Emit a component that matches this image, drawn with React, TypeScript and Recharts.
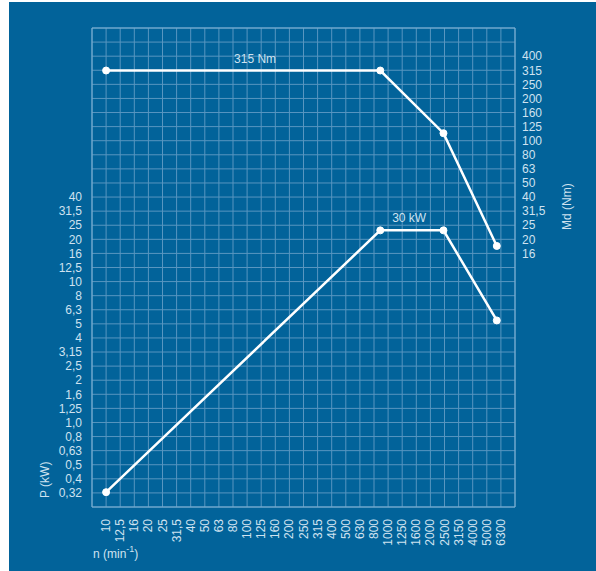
import React from "react";
import {
  LineChart,
  Line,
  XAxis,
  YAxis,
  CartesianGrid,
  ReferenceArea,
  ReferenceDot,
} from "recharts";

// Drehzahl-Achse (Renard-Reihe)
const nLabels = [
  "10", "12,5", "16", "20", "25", "31,5", "40", "50", "63", "80", "100",
  "125", "160", "200", "250", "315", "400", "500", "630", "800", "1000",
  "1250", "1600", "2000", "2500", "3150", "4000", "5000", "6300",
];

// Leistung P (kW), linke Achse
const pLabels = [
  "0,32", "0,4", "0,5", "0,63", "0,8", "1,0", "1,25", "1,6", "2", "2,5",
  "3,15", "4", "5", "6,3", "8", "10", "12,5", "16", "20", "25", "31,5", "40",
];

// Drehmoment Md (Nm), rechte Achse
const mdLabels = [
  "16", "20", "25", "31,5", "40", "50", "63", "80", "100", "125", "160",
  "200", "250", "315", "400",
];

// Messpunkte
const speeds = [10, 880, 2470, 5900];
const power = [0.32, 23.1, 23.1, 5.3];
const torque = [315, 315, 113, 17.9];

// Beschriftungen an den Kurven
const notes = [
  { text: "315 Nm", n: 114, value: 315 },
  { text: "30 kW", n: 1410, value: 23.1 },
];

const BG = "#02639a";
const TEXT = "#cfe2f0";
const GRID = "#5896c0";
const FONT = "'Liberation Sans', Arial, sans-serif";

const lg = (v: number) => 10 * Math.log10(v);
const num = (s: string) => parseFloat(s.replace(",", "."));

const X_DOMAIN: [number, number] = [9, 39];
const Y_DOMAIN: [number, number] = [-6, 28];

const steps = (a: number, b: number) => {
  const out: number[] = [];
  for (let i = a; i <= b; i++) out.push(i);
  return out;
};

const labelAt = (labels: string[], t: number) =>
  labels.find((l) => Math.round(lg(num(l))) === t) || "";

const data = speeds.map((n, i) => ({
  x: lg(n),
  p: lg(power[i]),
  md: lg(torque[i]),
}));

const XTick = (props: any) => {
  const { x, y, payload } = props;
  const lab = labelAt(nLabels, payload.value);
  if (!lab) return <g />;
  return (
    <text
      x={x}
      y={y}
      transform={`rotate(-90 ${x} ${y})`}
      textAnchor="end"
      dominantBaseline="central"
      fill={TEXT}
      fontSize={12}
      fontFamily={FONT}
    >
      {lab}
    </text>
  );
};

export default function App() {
  return (
    <div
      style={{
        position: "fixed",
        left: 9,
        top: 2,
        width: 587,
        height: 569,
        background: BG,
      }}
    >
      <LineChart
        width={587}
        height={569}
        data={data}
        margin={{ top: 26, right: 21, left: 23, bottom: 14 }}
      >
        <CartesianGrid yAxisId="left" stroke={GRID} strokeWidth={1} />
        <XAxis
          dataKey="x"
          type="number"
          domain={X_DOMAIN}
          ticks={steps(9, 39)}
          interval={0}
          height={50}
          axisLine={false}
          tickLine={false}
          tickSize={10}
          tickMargin={2}
          tick={<XTick />}
          label={{
            content: (p: any) => {
              const vb = p.viewBox;
              return (
                <text
                  x={vb.x + 1}
                  y={vb.y + 47}
                  fill={TEXT}
                  fontSize={12}
                  fontFamily={FONT}
                  dominantBaseline="central"
                >
                  n (min
                  <tspan dy={-5} fontSize={9}>
                    -1
                  </tspan>
                  <tspan dy={5}>)</tspan>
                </text>
              );
            },
          }}
        />
        <YAxis
          yAxisId="left"
          type="number"
          domain={Y_DOMAIN}
          ticks={steps(-6, 28)}
          interval={0}
          width={60}
          axisLine={false}
          tickLine={false}
          tickSize={8}
          tickMargin={2}
          tickFormatter={(t: number) => labelAt(pLabels, t)}
          tick={{ fill: TEXT, fontSize: 12, fontFamily: FONT }}
          label={{
            content: (p: any) => {
              const vb = p.viewBox;
              const x = vb.x + 13;
              const y = vb.y + vb.height - 9;
              return (
                <text
                  x={x}
                  y={y}
                  transform={`rotate(-90 ${x} ${y})`}
                  textAnchor="start"
                  dominantBaseline="central"
                  fill={TEXT}
                  fontSize={12}
                  fontFamily={FONT}
                >
                  P (kW)
                </text>
              );
            },
          }}
        />
        <YAxis
          yAxisId="right"
          orientation="right"
          type="number"
          domain={Y_DOMAIN}
          ticks={steps(-6, 28)}
          interval={0}
          width={60}
          axisLine={false}
          tickLine={false}
          tickSize={5}
          tickMargin={2}
          tickFormatter={(t: number) => labelAt(mdLabels, t)}
          tick={{ fill: TEXT, fontSize: 12, fontFamily: FONT, textAnchor: "start" }}
          label={{
            content: (p: any) => {
              const vb = p.viewBox;
              const x = vb.x + 52;
              const y = vb.y + 202;
              return (
                <text
                  x={x}
                  y={y}
                  transform={`rotate(-90 ${x} ${y})`}
                  textAnchor="start"
                  dominantBaseline="central"
                  fill={TEXT}
                  fontSize={12}
                  fontFamily={FONT}
                >
                  Md (Nm)
                </text>
              );
            },
          }}
        />
        <ReferenceArea
          yAxisId="left"
          x1={X_DOMAIN[0]}
          x2={X_DOMAIN[1]}
          y1={Y_DOMAIN[0]}
          y2={Y_DOMAIN[1]}
          fill="none"
          stroke="#7db1d4"
          strokeWidth={1}
        />
        <Line
          yAxisId="right"
          dataKey="md"
          stroke="#fff"
          strokeWidth={2.5}
          dot={{ r: 3.5, fill: "#fff", stroke: "#fff", strokeWidth: 1 }}
          isAnimationActive={false}
        />
        <Line
          yAxisId="left"
          dataKey="p"
          stroke="#fff"
          strokeWidth={2.5}
          dot={{ r: 3.5, fill: "#fff", stroke: "#fff", strokeWidth: 1 }}
          isAnimationActive={false}
        />
        {notes.map((a) => (
          <ReferenceDot
            key={a.text}
            yAxisId="left"
            x={lg(a.n)}
            y={lg(a.value)}
            r={0}
            fill="none"
            stroke="none"
            label={{
              value: a.text,
              position: "top",
              offset: 8,
              fill: TEXT,
              fontSize: 12,
              fontFamily: FONT,
            }}
          />
        ))}
      </LineChart>
    </div>
  );
}
